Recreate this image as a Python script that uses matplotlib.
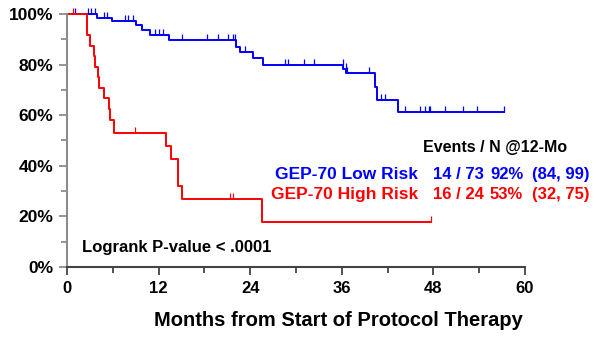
import numpy as np
import matplotlib
matplotlib.use("Agg")
import matplotlib.pyplot as plt
from matplotlib.ticker import MultipleLocator, FuncFormatter

plt.rcParams["font.family"] = ["Liberation Sans", "DejaVu Sans"]
plt.rcParams["font.weight"] = "bold"

# =========================
# Kaplan-Meier curves
# =========================
low_t = [0, 3.9, 5.9, 9.1, 9.8, 10.9, 13.3, 22.2, 22.7, 24.4, 25.7,
         36.2, 36.6, 40.3, 40.6, 43.4, 57.2]
low_s = [100, 98.6, 97.3, 95.7, 93.8, 91.8, 89.8, 87.1, 84.8, 82.5, 79.9,
         78.2, 76.6, 71.3, 66.1, 61.2, 61.2]
low_cens = [1.0, 2.8, 3.2, 3.7, 4.8, 5.2, 7.6, 8.0, 8.7, 11.5, 12.0, 12.6,
            15.0, 18.3, 19.8, 21.1, 21.8, 22.0, 23.3, 28.5, 28.9, 31.0, 32.3,
            36.1, 36.5, 36.7, 39.5, 41.2, 41.7, 44.3, 46.3, 46.9, 47.4, 47.6,
            49.5, 51.9, 53.7, 57.2]

high_t = [0, 2.6, 3.0, 3.6, 3.7, 4.1, 4.2, 4.8, 5.5, 5.6, 6.1,
          13.0, 13.6, 14.6, 15.0, 25.5, 47.7]
high_s = [100, 91.7, 87.5, 83.3, 79.2, 75.0, 70.8, 66.7, 62.5, 58.3, 53.0,
          47.8, 42.5, 32.0, 26.8, 17.6, 17.6]
high_cens = [0.8, 8.9, 21.4, 21.8, 47.7]

groups = ["GEP-70 Low Risk", "GEP-70 High Risk"]
events = ["14 / 73", "16 / 24"]
pct12 = ["92%", "53%"]
ci12 = ["(84, 99)", "(32, 75)"]
colors = ["#0000ff", "#ff0000"]

W, H = 610, 337
fig = plt.figure(figsize=(W / 100, H / 100), dpi=100)
ax = fig.add_axes([67 / W, 1 - 267 / H, (525 - 67) / W, (267 - 14) / H])


def surv_at(t, s, x):
    i = np.searchsorted(np.array(t), np.array(x), side="right") - 1
    return np.array(s)[i]


for t, s, cens, c in [(low_t, low_s, low_cens, colors[0]),
                      (high_t, high_s, high_cens, colors[1])]:
    ax.step(t, np.array(s) / 100, where="post", color=c, lw=1.4, clip_on=False)
    ax.plot(cens, surv_at(t, s, cens) / 100, ls="none", marker=2,
            ms=4, mew=0.9, color=c, clip_on=False)

ax.set_xlim(0, 60)
ax.set_ylim(0, 1.0)
ax.xaxis.set_major_locator(MultipleLocator(12))
ax.xaxis.set_minor_locator(MultipleLocator(6))
ax.yaxis.set_major_locator(MultipleLocator(0.2))
ax.yaxis.set_minor_locator(MultipleLocator(0.1))
ax.yaxis.set_major_formatter(FuncFormatter(lambda v, p: f"{v*100:.0f}%"))

for side in ["top", "right"]:
    ax.spines[side].set_visible(False)
ax.spines["left"].set_color("#8c8c8c")
ax.spines["bottom"].set_color("#444444")
ax.spines["left"].set_linewidth(1.5)
ax.spines["bottom"].set_linewidth(1.5)
ax.tick_params(axis="y", which="major", length=6, width=1.3, color="#8c8c8c",
               labelsize=12.5, pad=4)
ax.tick_params(axis="y", which="minor", length=4, width=1.3, color="#8c8c8c")
ax.tick_params(axis="x", which="major", length=6, width=1.3, color="#444444",
               labelsize=12, pad=4)
ax.tick_params(axis="x", which="minor", length=4, width=1.3, color="#444444")
ax.set_xlabel("Months from Start of Protocol Therapy", fontsize=14.5,
              fontweight="bold")
ax.xaxis.set_label_coords((338 - 67) / 458, -0.172)


def fx(px):
    return px / W


def fy(py):
    return 1 - py / H


fig.text(fx(495), fy(152), "Events / N @12-Mo", ha="center", va="baseline",
         fontsize=11.5, color="black")
for row, base in enumerate([179, 199]):
    c = colors[row]
    fig.text(fx(418), fy(base), groups[row], ha="right", va="baseline",
             fontsize=12.5, color=c)
    fig.text(fx(433), fy(base), events[row], ha="left", va="baseline",
             fontsize=12, color=c)
    fig.text(fx(490), fy(base), pct12[row], ha="left", va="baseline",
             fontsize=12, color=c)
    fig.text(fx(532), fy(base), ci12[row], ha="left", va="baseline",
             fontsize=12, color=c)

fig.text(fx(82), fy(252), "Logrank P-value < .0001", ha="left", va="baseline",
         fontsize=12, color="black")

fig.savefig("out.png", dpi=100)
